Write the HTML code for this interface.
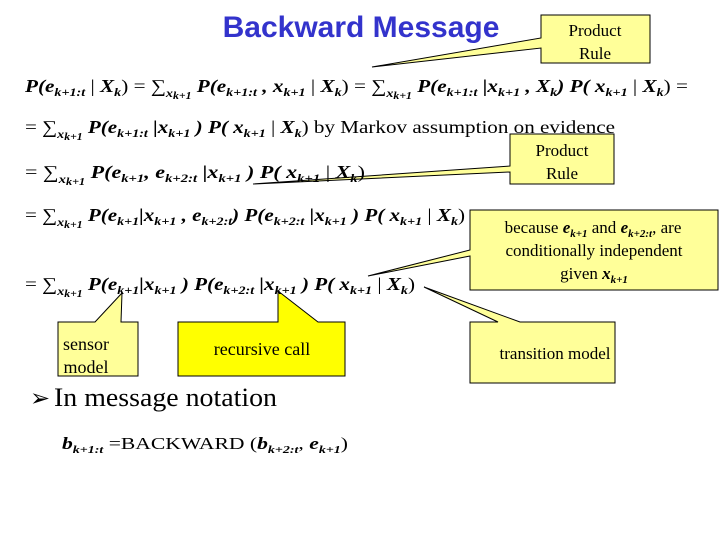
<!DOCTYPE html>
<html><head><meta charset="utf-8"><style>
html,body{margin:0;padding:0;background:#fff;}
svg{display:block;font-family:"Liberation Serif",serif;}
.b{font-weight:bold;font-style:italic;}
</style></head><body>
<svg width="720" height="540" viewBox="0 0 720 540" xmlns="http://www.w3.org/2000/svg">
<g stroke="#000" stroke-width="1" fill="#ffff99">
<path d="M541,15 H650 V63 H541 V48 L372,67 L541,38 Z"/>
<path d="M510,134 H614 V184 H510 V172 L253,184 L510,166 Z"/>
<path d="M470,210 H718 V290 H470 V256 L368,276 L470,250 Z"/>
<path d="M58,322 H95 L122,293 L121,322 H138 V376 H58 Z"/>
<path d="M178,322 H278 V291 L318,322 H345 V376 H178 Z" fill="#ffff00"/>
<path d="M470,322 H498 L424,287 L520,322 H615 V383 H470 Z"/>
</g>
<text x="361" y="37" text-anchor="middle" font-family="Liberation Sans,sans-serif" font-weight="bold" font-size="30" fill="#3333cc">Backward Message</text>
<g font-size="17" text-anchor="middle">
<text x="595" y="36">Product</text><text x="595" y="59">Rule</text>
<text x="562" y="156">Product</text><text x="562" y="179">Rule</text>
<text x="593" y="233">because <tspan class="b">e</tspan><tspan font-size="11" dy="4" class="b">k+1</tspan><tspan dy="-4"> and </tspan><tspan class="b">e</tspan><tspan font-size="11" dy="4" class="b">k+2:t</tspan><tspan dy="-4">, are</tspan></text>
<text x="594" y="256">conditionally independent</text>
<text x="594" y="279">given <tspan class="b">x</tspan><tspan font-size="11" dy="4" class="b">k+1</tspan></text>
<text x="86" y="350" font-size="18">sensor</text><text x="86" y="373" font-size="18">model</text>
<text x="262" y="355" font-size="18">recursive call</text>
<text x="555" y="359">transition model</text>
</g>
<g font-size="18">
<text x="25" y="92" textLength="663" lengthAdjust="spacingAndGlyphs"><tspan class="b">P(e</tspan><tspan class="b" font-size="12" dy="4">k+1:t</tspan><tspan dy="-4"> | </tspan><tspan class="b">X</tspan><tspan class="b" font-size="12" dy="4">k</tspan><tspan dy="-4">) = ∑</tspan><tspan font-size="12" dy="5" class="b">x</tspan><tspan font-size="10" dy="2" class="b">k+1</tspan><tspan dy="-7" class="b"> P(e</tspan><tspan class="b" font-size="12" dy="4">k+1:t</tspan><tspan class="b" dy="-4"> , x</tspan><tspan class="b" font-size="12" dy="4">k+1</tspan><tspan dy="-4"> | </tspan><tspan class="b">X</tspan><tspan class="b" font-size="12" dy="4">k</tspan><tspan dy="-4">) = ∑</tspan><tspan font-size="12" dy="5" class="b">x</tspan><tspan font-size="10" dy="2" class="b">k+1</tspan><tspan dy="-7" class="b"> P(e</tspan><tspan class="b" font-size="12" dy="4">k+1:t</tspan><tspan class="b" dy="-4"> |x</tspan><tspan class="b" font-size="12" dy="4">k+1</tspan><tspan dy="-4" class="b"> , X</tspan><tspan class="b" font-size="12" dy="4">k</tspan><tspan dy="-4" class="b">) P( x</tspan><tspan class="b" font-size="12" dy="4">k+1</tspan><tspan dy="-4"> | </tspan><tspan class="b">X</tspan><tspan class="b" font-size="12" dy="4">k</tspan><tspan dy="-4">) =</tspan></text>
<text x="25" y="133" textLength="590" lengthAdjust="spacingAndGlyphs">= ∑<tspan font-size="12" dy="5" class="b">x</tspan><tspan font-size="10" dy="2" class="b">k+1</tspan><tspan dy="-7" class="b"> P(e</tspan><tspan class="b" font-size="12" dy="4">k+1:t</tspan><tspan class="b" dy="-4"> |x</tspan><tspan class="b" font-size="12" dy="4">k+1</tspan><tspan dy="-4" class="b"> ) P( x</tspan><tspan class="b" font-size="12" dy="4">k+1</tspan><tspan dy="-4"> | </tspan><tspan class="b">X</tspan><tspan class="b" font-size="12" dy="4">k</tspan><tspan dy="-4">) by Markov assumption on evidence</tspan></text>
<text x="25" y="178" textLength="340" lengthAdjust="spacingAndGlyphs">= ∑<tspan font-size="12" dy="5" class="b">x</tspan><tspan font-size="10" dy="2" class="b">k+1</tspan><tspan dy="-7" class="b"> P(e</tspan><tspan class="b" font-size="12" dy="4">k+1</tspan><tspan class="b" dy="-4">, e</tspan><tspan class="b" font-size="12" dy="4">k+2:t</tspan><tspan class="b" dy="-4"> |x</tspan><tspan class="b" font-size="12" dy="4">k+1</tspan><tspan dy="-4" class="b"> ) P( x</tspan><tspan class="b" font-size="12" dy="4">k+1</tspan><tspan dy="-4"> | </tspan><tspan class="b">X</tspan><tspan class="b" font-size="12" dy="4">k</tspan><tspan dy="-4">)</tspan></text>
<text x="25" y="221" textLength="440" lengthAdjust="spacingAndGlyphs">= ∑<tspan font-size="12" dy="5" class="b">x</tspan><tspan font-size="10" dy="2" class="b">k+1</tspan><tspan dy="-7" class="b"> P(e</tspan><tspan class="b" font-size="12" dy="4">k+1</tspan><tspan class="b" dy="-4">|x</tspan><tspan class="b" font-size="12" dy="4">k+1</tspan><tspan class="b" dy="-4"> , e</tspan><tspan class="b" font-size="12" dy="4">k+2:t</tspan><tspan class="b" dy="-4">) P(e</tspan><tspan class="b" font-size="12" dy="4">k+2:t</tspan><tspan class="b" dy="-4"> |x</tspan><tspan class="b" font-size="12" dy="4">k+1</tspan><tspan dy="-4" class="b"> ) P( x</tspan><tspan class="b" font-size="12" dy="4">k+1</tspan><tspan dy="-4"> | </tspan><tspan class="b">X</tspan><tspan class="b" font-size="12" dy="4">k</tspan><tspan dy="-4">)</tspan></text>
<text x="25" y="290" textLength="390" lengthAdjust="spacingAndGlyphs">= ∑<tspan font-size="12" dy="5" class="b">x</tspan><tspan font-size="10" dy="2" class="b">k+1</tspan><tspan dy="-7" class="b"> P(e</tspan><tspan class="b" font-size="12" dy="4">k+1</tspan><tspan class="b" dy="-4">|x</tspan><tspan class="b" font-size="12" dy="4">k+1</tspan><tspan class="b" dy="-4"> ) P(e</tspan><tspan class="b" font-size="12" dy="4">k+2:t</tspan><tspan class="b" dy="-4"> |x</tspan><tspan class="b" font-size="12" dy="4">k+1</tspan><tspan dy="-4" class="b"> ) P( x</tspan><tspan class="b" font-size="12" dy="4">k+1</tspan><tspan dy="-4"> | </tspan><tspan class="b">X</tspan><tspan class="b" font-size="12" dy="4">k</tspan><tspan dy="-4">)</tspan></text>
</g>
<text x="30" y="406" font-size="24">➢</text>
<text x="54" y="406" font-size="26" textLength="223" lengthAdjust="spacingAndGlyphs">In message notation</text>
<text x="62" y="449" font-size="17" textLength="286" lengthAdjust="spacingAndGlyphs"><tspan class="b">b</tspan><tspan class="b" font-size="11" dy="4">k+1:t</tspan><tspan dy="-4"> =BACKWARD (</tspan><tspan class="b">b</tspan><tspan class="b" font-size="11" dy="4">k+2:t</tspan><tspan dy="-4">, </tspan><tspan class="b">e</tspan><tspan class="b" font-size="11" dy="4">k+1</tspan><tspan dy="-4">)</tspan></text>
</svg>
</body></html>
